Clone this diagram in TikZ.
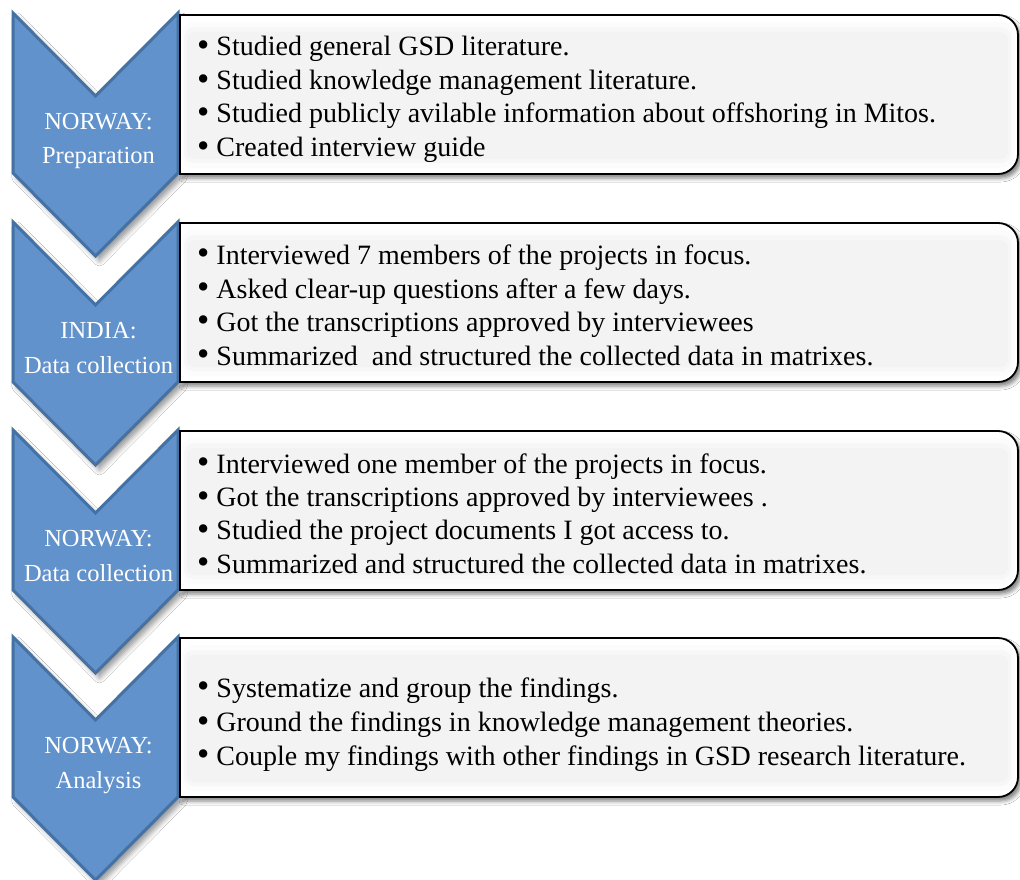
\documentclass[tikz,border=0pt]{standalone}
\usepackage{fontspec}
\setmainfont{Liberation Serif}
\usetikzlibrary{shadows.blur}

\definecolor{chevfill}{RGB}{97,146,203}
\definecolor{chevedge}{RGB}{70,114,163}
\definecolor{bevelA}{RGB}{252,252,252}
\definecolor{bevelB}{RGB}{247,247,247}
\definecolor{panelfill}{RGB}{243,243,243}

% a slightly heavier bullet, sitting on the x-height middle, without extra height
\newcommand\itembullet{\raisebox{-0.9pt}[0pt][0pt]{\scalebox{1.25}{•}}}

\tikzset{
  chevron/.style={fill=chevfill, draw=chevedge, line width=3pt, line join=miter,
    blur shadow={shadow xshift=4pt, shadow yshift=-5pt, shadow blur radius=5pt, shadow opacity=40}},
  panel/.style={fill=white, draw=black, line width=1.8pt,
    blur shadow={shadow xshift=3pt, shadow yshift=-4pt, shadow blur radius=4pt, shadow opacity=50}},
  item/.style={anchor=base west, inner sep=0pt, text=black, font=\fontsize{28}{33}\selectfont},
  phase/.style={anchor=base, inner sep=0pt, text=white, font=\fontsize{24.5}{30}\selectfont},
}

\begin{document}
\begin{tikzpicture}[x=1pt, y=-1pt]
\useasboundingbox (0,0) rectangle (1020,880);
\fill[white] (0,0) rectangle (1020,880);

% downward chevrons, one per phase
\foreach \T in {13,222,430,637}{
  \path[chevron] (13,\T) -- (95.5,{\T+83}) -- (178,\T) -- (178,{\T+160})
    -- (95.5,{\T+243}) -- (13,{\T+160}) -- cycle;
}

% text panels, square on the left and rounded on the right, with a soft bevel
\foreach \T in {15,223,431,638}{
  \pgfmathsetmacro{\B}{\T+159}
  \path[panel] (180,\T) -- (998,\T) arc[start angle=270, end angle=360, radius=20]
    -- (1018,{\B-20}) arc[start angle=0, end angle=90, radius=20] -- (180,\B) -- cycle;
  \fill[bevelA, rounded corners=12pt] (182,{\T+7}) rectangle (1014,{\B-6});
  \fill[bevelB, rounded corners=10pt] (184,{\T+12}) rectangle (1011,{\B-11});
  \fill[panelfill, rounded corners=8pt] (187,{\T+17}) rectangle (1008,{\B-15});
}

% phase labels
\node[phase] (p1a) at (98.5,129.5) {NORWAY:};
\node[phase] (p1b) at (98.5,164) {Preparation};
\node[phase] (p2a) at (98.5,338.5) {INDIA:};
\node[phase] (p2b) at (98.5,373) {Data collection};
\node[phase] (p3a) at (98.5,546.5) {NORWAY:};
\node[phase] (p3b) at (98.5,581) {Data collection};
\node[phase] (p4a) at (98.5,753.5) {NORWAY:};
\node[phase] (p4b) at (98.5,788) {Analysis};

% activities of each phase
\node[item] (a1) at (197,56) {\itembullet\ Studied general GSD literature.};
\node[item] (a2) at (197,90) {\itembullet\ Studied knowledge management literature.};
\node[item] (a3) at (197,123) {\itembullet\ Studied publicly avilable information about offshoring in Mitos.};
\node[item] (a4) at (197,157) {\itembullet\ Created interview guide};

\node[item] (b1) at (197,264) {\itembullet\ Interviewed 7 members of the projects in focus.};
\node[item] (b2) at (197,298) {\itembullet\ Asked clear-up questions after a few days.};
\node[item] (b3) at (197,331) {\itembullet\ Got the transcriptions approved by interviewees};
\node[item] (b4) at (197,365) {\itembullet\ Summarized\ \ and structured the collected data in matrixes.};

\node[item] (c1) at (197,473) {\itembullet\ Interviewed one member of the projects in focus.};
\node[item] (c2) at (197,506.5) {\itembullet\ Got the transcriptions approved by interviewees .};
\node[item] (c3) at (197,539.5) {\itembullet\ Studied the project documents I got access to.};
\node[item] (c4) at (197,573) {\itembullet\ Summarized and structured the collected data in matrixes.};

\node[item] (d1) at (197,697) {\itembullet\ Systematize and group the findings.};
\node[item] (d2) at (197,731.5) {\itembullet\ Ground the findings in knowledge management theories.};
\node[item] (d3) at (197,765) {\itembullet\ Couple my findings with other findings in GSD research literature.};
\end{tikzpicture}
\end{document}
